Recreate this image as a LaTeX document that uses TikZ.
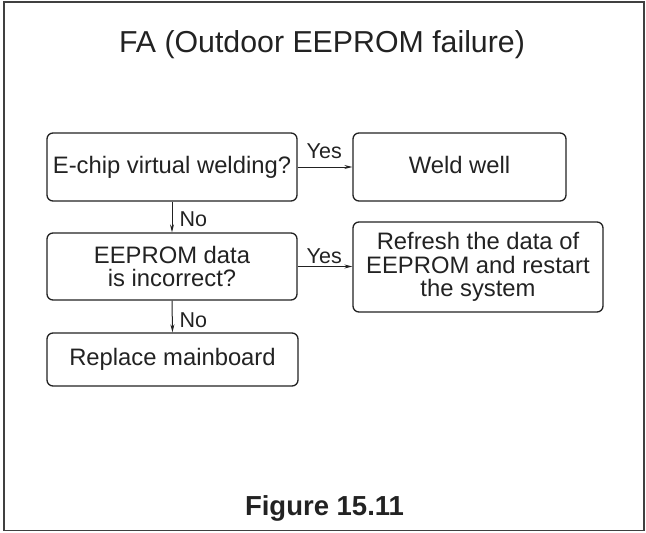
\documentclass[tikz,border=0pt]{standalone}
\usepackage{fontspec}
\setmainfont{Liberation Sans}
\usetikzlibrary{arrows.meta}
\definecolor{ink}{HTML}{222222}
\tikzset{
  box/.style={draw=ink, line width=1.3pt, rounded corners=6pt, align=center, inner sep=0pt,
    text=ink, font=\fontsize{23.8}{23.5}\selectfont},
  lbl/.style={text=ink, inner sep=0pt, anchor=base west, font=\fontsize{21.5}{24}\selectfont},
  arr/.style={draw=ink, line width=1pt, -{Stealth[length=8pt,width=4pt]}}
}
\begin{document}
\begin{tikzpicture}[x=1pt,y=-1pt]
\useasboundingbox (0,0) rectangle (646,533);
\draw[line width=1.6pt, draw=black!75] (4,2) rectangle (644,530.5);
\node[anchor=base, text=ink, inner sep=0pt, font=\fontsize{30.3}{32}\selectfont] (title) at (322,52) {FA (Outdoor EEPROM failure)};
\node[box, minimum width=250pt, minimum height=68pt, text height=17.5pt, text depth=5.5pt] (b1) at (172,167) {E-chip virtual welding?};
\node[box, minimum width=213pt, minimum height=68pt, text height=17.5pt, text depth=5.5pt] (weld) at (459.5,167) {Weld well};
\node[box, minimum width=250pt, minimum height=67pt] (b2) at (172,266.5) {EEPROM data\\is incorrect?};
\node[box, minimum width=250pt, minimum height=90pt] (refresh) at (478,267) {Refresh the data of\\EEPROM and restart\\the system};
\node[box, minimum width=251pt, minimum height=53pt, text height=17.5pt, text depth=5.5pt] (b3) at (172.5,359.5) {Replace mainboard};
\draw[arr] (b1.east) -- (weld.west);
\draw[arr] (b1.south) -- (b2.north);
\draw[arr] (b2.east) -- (b2.east -| refresh.west);
\draw[arr] (b2.south) -- (b3.north);
\node[lbl] (y1) at (306.5,158) {Yes};
\node[lbl] (n1) at (179.5,226) {No};
\node[lbl] (y2) at (306.5,263) {Yes};
\node[lbl] (n2) at (179.5,327) {No};
\node[anchor=base, text=ink, inner sep=0pt, font=\bfseries\fontsize{27.5}{30}\selectfont] (fig) at (324.5,515) {Figure 15.11};
\end{tikzpicture}
\end{document}
